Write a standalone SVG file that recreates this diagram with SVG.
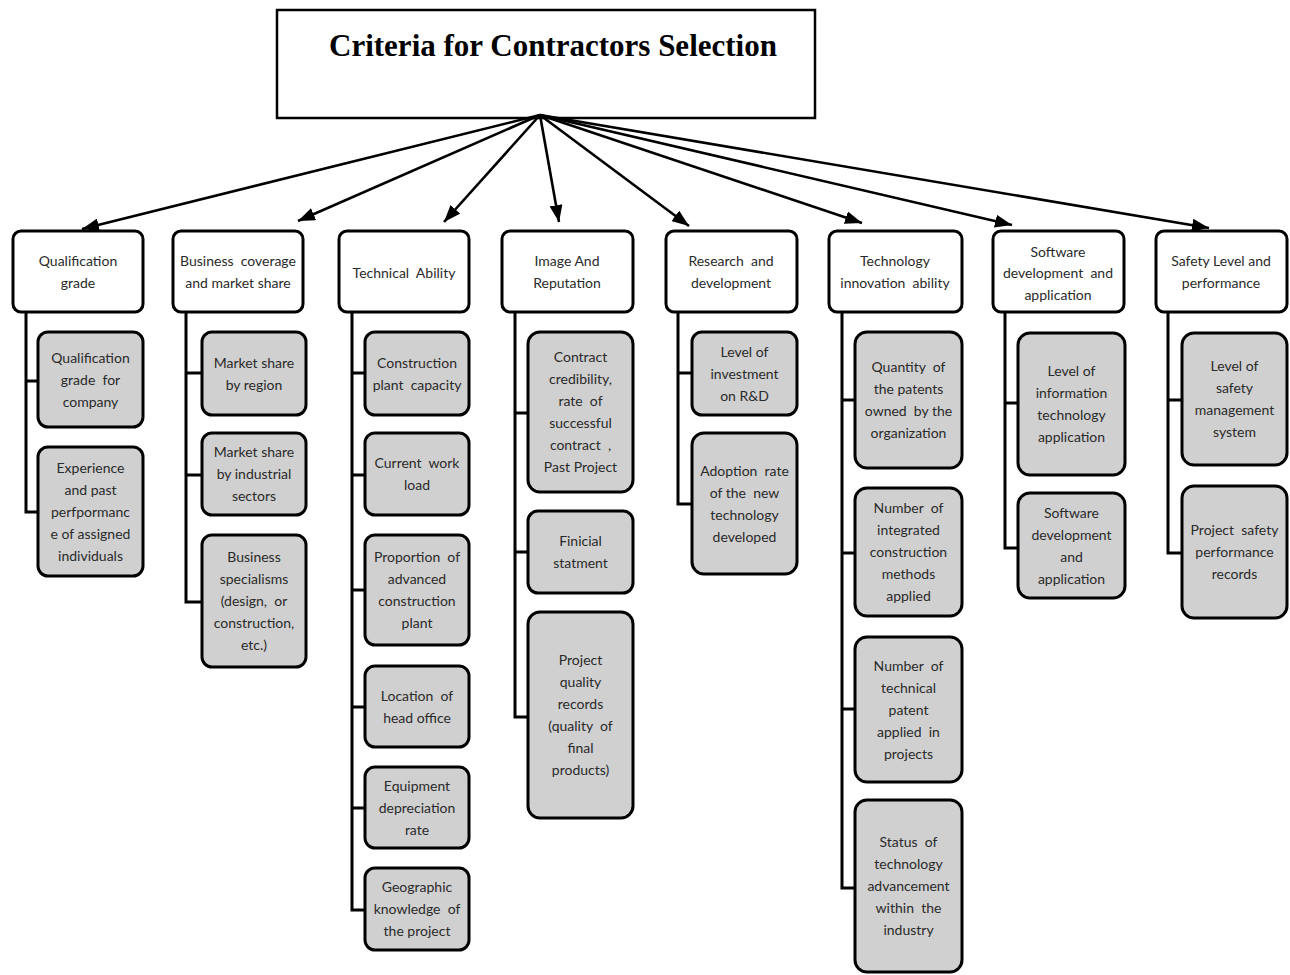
<svg xmlns="http://www.w3.org/2000/svg" width="1290" height="975" viewBox="0 0 1290 975">
<style>
.hdr{fill:#ffffff;stroke:#000;stroke-width:3}
.sub{fill:#d0d0d0;stroke:#000;stroke-width:3}
.t{font-family:Lato,"Liberation Sans",sans-serif;font-size:14px;fill:#2a2a2a;text-anchor:middle;white-space:pre}
.title{font-family:"Liberation Serif",serif;font-size:31px;font-weight:bold;fill:#000;text-anchor:middle}
.tree{fill:none;stroke:#000;stroke-width:3}
.arr{fill:none;stroke:#000;stroke-width:2.6}
</style>
<defs>
<marker id="ah" markerUnits="userSpaceOnUse" markerWidth="17" markerHeight="13" refX="17" refY="6.5" orient="auto">
<path d="M0,0 L17,6.5 L0,13 z" fill="#000"/>
</marker>
</defs>
<rect width="1290" height="975" fill="#fff"/>

<g id="title">
<rect x="277" y="10" width="538" height="108" fill="#fff" stroke="#000" stroke-width="2.5"/>
<text class="title" x="553" y="56">Criteria for Contractors Selection</text>
</g>

<g id="connectors">
<line class="arr" x1="540" y1="115" x2="82" y2="229" marker-end="url(#ah)"/>
<line class="arr" x1="540" y1="115" x2="298" y2="221" marker-end="url(#ah)"/>
<line class="arr" x1="540" y1="115" x2="444" y2="222" marker-end="url(#ah)"/>
<line class="arr" x1="540" y1="115" x2="559" y2="222" marker-end="url(#ah)"/>
<line class="arr" x1="540" y1="115" x2="689" y2="226" marker-end="url(#ah)"/>
<line class="arr" x1="540" y1="115" x2="862" y2="223" marker-end="url(#ah)"/>
<line class="arr" x1="540" y1="115" x2="1012" y2="225" marker-end="url(#ah)"/>
<line class="arr" x1="540" y1="115" x2="1209" y2="228" marker-end="url(#ah)"/>
<path class="tree" d="M26 312 V512 H38 M26 381 H38"/>
<path class="tree" d="M186 312 V602 H202 M186 373 H202 M186 475 H202"/>
<path class="tree" d="M352 312 V910 H365 M352 373 H365 M352 475 H365 M352 590 H365 M352 707 H365 M352 808 H365"/>
<path class="tree" d="M515 312 V717 H528 M515 413 H528 M515 552 H528"/>
<path class="tree" d="M678 312 V504 H692 M678 373 H692"/>
<path class="tree" d="M842 312 V888 H855 M842 400 H855 M842 553 H855 M842 709 H855"/>
<path class="tree" d="M1005 312 V548 H1018 M1005 403 H1018"/>
<path class="tree" d="M1168 312 V553 H1182 M1168 400 H1182"/>
</g>

<g id="h1"><rect class="hdr" x="13" y="231" width="130" height="81" rx="8"/>
<text class="t" x="78" y="266">Qualification</text><text class="t" x="78" y="288">grade</text></g>
<g id="h2"><rect class="hdr" x="173" y="231" width="130" height="81" rx="8"/>
<text class="t" x="238" y="266">Business  coverage</text><text class="t" x="238" y="288">and market share</text></g>
<g id="h3"><rect class="hdr" x="339" y="231" width="130" height="81" rx="8"/>
<text class="t" x="404" y="278">Technical  Ability</text></g>
<g id="h4"><rect class="hdr" x="502" y="231" width="131" height="81" rx="8"/>
<text class="t" x="567" y="266">Image And</text><text class="t" x="567" y="288">Reputation</text></g>
<g id="h5"><rect class="hdr" x="666" y="231" width="131" height="81" rx="8"/>
<text class="t" x="731" y="266">Research  and</text><text class="t" x="731" y="288">development</text></g>
<g id="h6"><rect class="hdr" x="829" y="231" width="133" height="81" rx="8"/>
<text class="t" x="895" y="266">Technology</text><text class="t" x="895" y="288">innovation  ability</text></g>
<g id="h7"><rect class="hdr" x="993" y="231" width="131" height="81" rx="8"/>
<text class="t" x="1058" y="257">Software</text><text class="t" x="1058" y="278">development  and</text><text class="t" x="1058" y="300">application</text></g>
<g id="h8"><rect class="hdr" x="1156" y="231" width="131" height="81" rx="8"/>
<text class="t" x="1221" y="266">Safety Level and</text><text class="t" x="1221" y="288">performance</text></g>

<g id="c1a"><rect class="sub" x="38" y="332" width="105" height="95" rx="10"/>
<text class="t" x="90.5" y="362.5">Qualification</text><text class="t" x="90.5" y="384.5">grade  for</text><text class="t" x="90.5" y="406.5">company</text></g>
<g id="c1b"><rect class="sub" x="38" y="447" width="105" height="129" rx="10"/>
<text class="t" x="90.5" y="472.5">Experience</text><text class="t" x="90.5" y="494.5">and past</text><text class="t" x="90.5" y="516.5">perfpormanc</text><text class="t" x="90.5" y="538.5">e of assigned</text><text class="t" x="90.5" y="560.5">individuals</text></g>

<g id="c2a"><rect class="sub" x="202" y="332" width="104" height="83" rx="10"/>
<text class="t" x="254" y="367.5">Market share</text><text class="t" x="254" y="389.5">by region</text></g>
<g id="c2b"><rect class="sub" x="202" y="433" width="104" height="82" rx="10"/>
<text class="t" x="254" y="457">Market share</text><text class="t" x="254" y="479">by industrial</text><text class="t" x="254" y="501">sectors</text></g>
<g id="c2c"><rect class="sub" x="202" y="535" width="104" height="132" rx="10"/>
<text class="t" x="254" y="562">Business</text><text class="t" x="254" y="584">specialisms</text><text class="t" x="254" y="606">(design,  or</text><text class="t" x="254" y="628">construction,</text><text class="t" x="254" y="650">etc.)</text></g>

<g id="c3a"><rect class="sub" x="365" y="332" width="104" height="83" rx="10"/>
<text class="t" x="417" y="367.5">Construction</text><text class="t" x="417" y="389.5">plant  capacity</text></g>
<g id="c3b"><rect class="sub" x="365" y="433" width="104" height="82" rx="10"/>
<text class="t" x="417" y="468">Current  work</text><text class="t" x="417" y="490">load</text></g>
<g id="c3c"><rect class="sub" x="365" y="535" width="104" height="110" rx="10"/>
<text class="t" x="417" y="562">Proportion  of</text><text class="t" x="417" y="584">advanced</text><text class="t" x="417" y="606">construction</text><text class="t" x="417" y="628">plant</text></g>
<g id="c3d"><rect class="sub" x="365" y="666" width="104" height="81" rx="10"/>
<text class="t" x="417" y="700.5">Location  of</text><text class="t" x="417" y="722.5">head office</text></g>
<g id="c3e"><rect class="sub" x="365" y="767" width="104" height="81" rx="10"/>
<text class="t" x="417" y="790.5">Equipment</text><text class="t" x="417" y="812.5">depreciation</text><text class="t" x="417" y="834.5">rate</text></g>
<g id="c3f"><rect class="sub" x="365" y="868" width="104" height="82" rx="10"/>
<text class="t" x="417" y="892">Geographic</text><text class="t" x="417" y="914">knowledge  of</text><text class="t" x="417" y="936">the project</text></g>

<g id="c4a"><rect class="sub" x="528" y="332" width="105" height="160" rx="12"/>
<text class="t" x="580.5" y="362">Contract</text><text class="t" x="580.5" y="384">credibility,</text><text class="t" x="580.5" y="406">rate  of</text><text class="t" x="580.5" y="428">successful</text><text class="t" x="580.5" y="450">contract  ,</text><text class="t" x="580.5" y="472">Past Project</text></g>
<g id="c4b"><rect class="sub" x="528" y="511" width="105" height="82" rx="10"/>
<text class="t" x="580.5" y="546">Finicial</text><text class="t" x="580.5" y="568">statment</text></g>
<g id="c4c"><rect class="sub" x="528" y="612" width="105" height="206" rx="12"/>
<text class="t" x="580.5" y="665">Project</text><text class="t" x="580.5" y="687">quality</text><text class="t" x="580.5" y="709">records</text><text class="t" x="580.5" y="731">(quality  of</text><text class="t" x="580.5" y="753">final</text><text class="t" x="580.5" y="775">products)</text></g>

<g id="c5a"><rect class="sub" x="692" y="332" width="105" height="83" rx="10"/>
<text class="t" x="744.5" y="356.5">Level of</text><text class="t" x="744.5" y="378.5">investment</text><text class="t" x="744.5" y="400.5">on R&amp;D</text></g>
<g id="c5b"><rect class="sub" x="692" y="433" width="105" height="141" rx="12"/>
<text class="t" x="744.5" y="475.5">Adoption  rate</text><text class="t" x="744.5" y="497.5">of the  new</text><text class="t" x="744.5" y="519.5">technology</text><text class="t" x="744.5" y="541.5">developed</text></g>

<g id="c6a"><rect class="sub" x="855" y="332" width="107" height="136" rx="12"/>
<text class="t" x="908.5" y="372">Quantity  of</text><text class="t" x="908.5" y="394">the patents</text><text class="t" x="908.5" y="416">owned  by the</text><text class="t" x="908.5" y="438">organization</text></g>
<g id="c6b"><rect class="sub" x="855" y="488" width="107" height="128" rx="12"/>
<text class="t" x="908.5" y="513">Number  of</text><text class="t" x="908.5" y="535">integrated</text><text class="t" x="908.5" y="557">construction</text><text class="t" x="908.5" y="579">methods</text><text class="t" x="908.5" y="601">applied</text></g>
<g id="c6c"><rect class="sub" x="855" y="637" width="107" height="145" rx="12"/>
<text class="t" x="908.5" y="670.5">Number  of</text><text class="t" x="908.5" y="692.5">technical</text><text class="t" x="908.5" y="714.5">patent</text><text class="t" x="908.5" y="736.5">applied  in</text><text class="t" x="908.5" y="758.5">projects</text></g>
<g id="c6d"><rect class="sub" x="855" y="800" width="107" height="172" rx="12"/>
<text class="t" x="908.5" y="847">Status  of</text><text class="t" x="908.5" y="869">technology</text><text class="t" x="908.5" y="891">advancement</text><text class="t" x="908.5" y="913">within  the</text><text class="t" x="908.5" y="935">industry</text></g>

<g id="c7a"><rect class="sub" x="1018" y="333" width="107" height="142" rx="12"/>
<text class="t" x="1071.5" y="376">Level of</text><text class="t" x="1071.5" y="398">information</text><text class="t" x="1071.5" y="420">technology</text><text class="t" x="1071.5" y="442">application</text></g>
<g id="c7b"><rect class="sub" x="1018" y="493" width="107" height="105" rx="12"/>
<text class="t" x="1071.5" y="517.5">Software</text><text class="t" x="1071.5" y="539.5">development</text><text class="t" x="1071.5" y="561.5">and</text><text class="t" x="1071.5" y="583.5">application</text></g>

<g id="c8a"><rect class="sub" x="1182" y="333" width="105" height="132" rx="12"/>
<text class="t" x="1234.5" y="371">Level of</text><text class="t" x="1234.5" y="393">safety</text><text class="t" x="1234.5" y="415">management</text><text class="t" x="1234.5" y="437">system</text></g>
<g id="c8b"><rect class="sub" x="1182" y="486" width="105" height="132" rx="12"/>
<text class="t" x="1234.5" y="535">Project  safety</text><text class="t" x="1234.5" y="557">performance</text><text class="t" x="1234.5" y="579">records</text></g>
</svg>
